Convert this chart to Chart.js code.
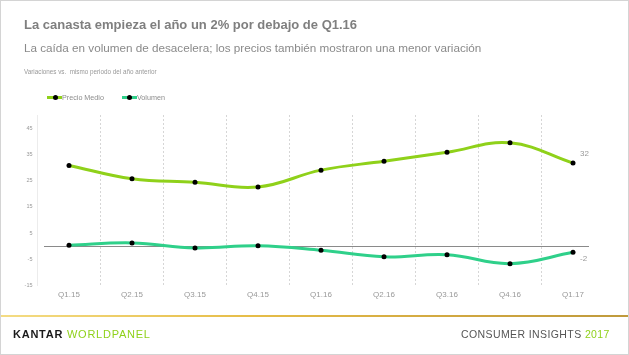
<!DOCTYPE html>
<html>
<head>
<meta charset="utf-8">
<script src="https://cdn.jsdelivr.net/npm/chart.js@4/dist/chart.umd.min.js"></script>
<style>
  html, body { margin: 0; padding: 0; background: #fff; }
  body { width: 629px; height: 355px; position: relative; overflow: hidden; font-family: "Liberation Sans", Arial, sans-serif; }
  #frame { position: absolute; left: 0; top: 0; width: 627px; height: 353px; border: 1px solid #d4d4d4; }
  #wrap { position: absolute; left: 0; top: 0; width: 629px; height: 355px; }
  .t { position: absolute; white-space: nowrap; }
  #title { left: 24px; top: 17px; font-size: 13px; font-weight: bold; color: #7f7f7f; }
  #subtitle { left: 24px; top: 41px; font-size: 11.7px; color: #8a8a8a; }
  #note { left: 24px; top: 68px; font-size: 6.3px; color: #999; }
  #legend { left: 47px; top: 92px; font-size: 7.2px; color: #8c8c8c; }
  .li { display: inline-block; margin-right: 16px; vertical-align: middle; }
  .sym { display: inline-block; width: 15px; height: 3px; position: relative; vertical-align: middle; }
  .sym::after { content: ""; position: absolute; left: 5.5px; top: -1px; width: 5px; height: 5px; border-radius: 50%; background: #000; }
  #goldline { position: absolute; left: 1px; top: 315px; width: 627px; height: 2px; background: linear-gradient(to right, #f4dc84, #e6bd48 40%, #cfa640 75%, #bf9a3c); }
  #kantar { left: 13px; top: 328px; font-size: 11px; letter-spacing: 0.75px; color: #1a1a1a; }
  #kantar b { font-weight: bold; }
  #kantar span { color: #8fd11a; }
  #ci { left: 461px; top: 328px; font-size: 10.5px; letter-spacing: 0.4px; color: #555; }
  #ci span { color: #8fd11a; }
</style>
</head>
<body>
<div id="frame"></div>
<div id="wrap"><canvas id="c" width="629" height="355"></canvas></div>
<div class="t" id="title">La canasta empieza el año un 2% por debajo de Q1.16</div>
<div class="t" id="subtitle">La caída en volumen de desacelera; los precios también mostraron una menor variación</div>
<div class="t" id="note">Variaciones vs.&nbsp; mismo periodo del año anterior</div>
<div class="t" id="legend">
  <span class="li"><span class="sym" style="background:#8fd11a"></span>Precio Medio</span>
  <span class="li"><span class="sym" style="background:#2fd08a"></span>Volumen</span>
</div>
<div id="goldline"></div>
<div class="t" id="kantar"><b>KANTAR</b> <span>WORLDPANEL</span></div>
<div class="t" id="ci">CONSUMER INSIGHTS <span>2017</span></div>
<script>
const categories = ["Q1.15", "Q2.15", "Q3.15", "Q4.15", "Q1.16", "Q2.16", "Q3.16", "Q4.16", "Q1.17"];
const precioMedio = [30.8, 25.7, 24.4, 22.6, 29.0, 32.4, 35.8, 39.4, 31.7];
const volumen = [0.4, 1.3, -0.6, 0.2, -1.5, -4.0, -3.2, -6.6, -2.3];
const yTicks = [-15, -5, 5, 15, 25, 35, 45];

const zeroLine = {
  id: 'zeroLine',
  beforeDatasetsDraw(chart) {
    const { ctx, chartArea, scales } = chart;
    const y = scales.y.getPixelForValue(0);
    ctx.save();
    ctx.strokeStyle = '#8a8a8a';
    ctx.lineWidth = 1;
    ctx.beginPath();
    ctx.moveTo(chartArea.left + 6.5, Math.round(y) + 0.5);
    ctx.lineTo(chartArea.right - 15.5, Math.round(y) + 0.5);
    ctx.stroke();
    ctx.restore();
  }
};

const lastLabels = {
  id: 'lastLabels',
  afterDatasetsDraw(chart) {
    const { ctx } = chart;
    ctx.save();
    ctx.font = '8px "Liberation Sans", Arial, sans-serif';
    ctx.fillStyle = '#999';
    ctx.textAlign = 'left';
    ctx.textBaseline = 'middle';
    chart.data.datasets.forEach((ds, i) => {
      const meta = chart.getDatasetMeta(i);
      const n = ds.data.length - 1;
      const pt = meta.data[n];
      const dy = i === 0 ? -9 : 6;
      ctx.fillText(String(Math.round(ds.data[n])), pt.x + 7, pt.y + dy);
    });
    ctx.restore();
  }
};

new Chart(document.getElementById('c'), {
  type: 'line',
  data: {
    labels: categories,
    datasets: [
      { label: 'Precio Medio', data: precioMedio, borderColor: '#8fd11a', borderWidth: 3, tension: 0.4,
        pointRadius: 2.5, pointBackgroundColor: '#000', pointBorderWidth: 0, fill: false },
      { label: 'Volumen', data: volumen, borderColor: '#2fd08a', borderWidth: 3, tension: 0.4,
        pointRadius: 2.5, pointBackgroundColor: '#000', pointBorderWidth: 0, fill: false }
    ]
  },
  options: {
    responsive: false,
    animation: false,
    events: [],
    layout: { autoPadding: false, padding: { top: 115, left: 0, right: 24.5, bottom: 47.3 } },
    plugins: { legend: { display: false }, title: { display: false }, tooltip: { enabled: false } },
    scales: {
      x: {
        offset: true,
        afterFit(scale) { scale.height = 22; },
        grid: {
          offset: true,
          drawTicks: false,
          color: (ctx) => (ctx.type !== 'tick' || ctx.index === 0) ? 'rgba(0,0,0,0)' : '#d6d6d6',
          lineWidth: 1
        },
        border: { display: false, dash: [2, 2] },
        ticks: { color: '#999', font: { size: 8, family: '"Liberation Sans", Arial, sans-serif' }, padding: 4, maxRotation: 0 }
      },
      y: {
        min: -15,
        max: 50,
        afterFit(scale) { scale.width = 37.5; },
        afterBuildTicks(scale) { scale.ticks = yTicks.map(v => ({ value: v })); },
        grid: { display: false, drawTicks: false },
        border: { display: true, color: '#ececec', width: 1 },
        ticks: { color: '#999', font: { size: 5.5, family: '"Liberation Sans", Arial, sans-serif' }, padding: 5 }
      }
    }
  },
  plugins: [zeroLine, lastLabels]
});
</script>
</body>
</html>
